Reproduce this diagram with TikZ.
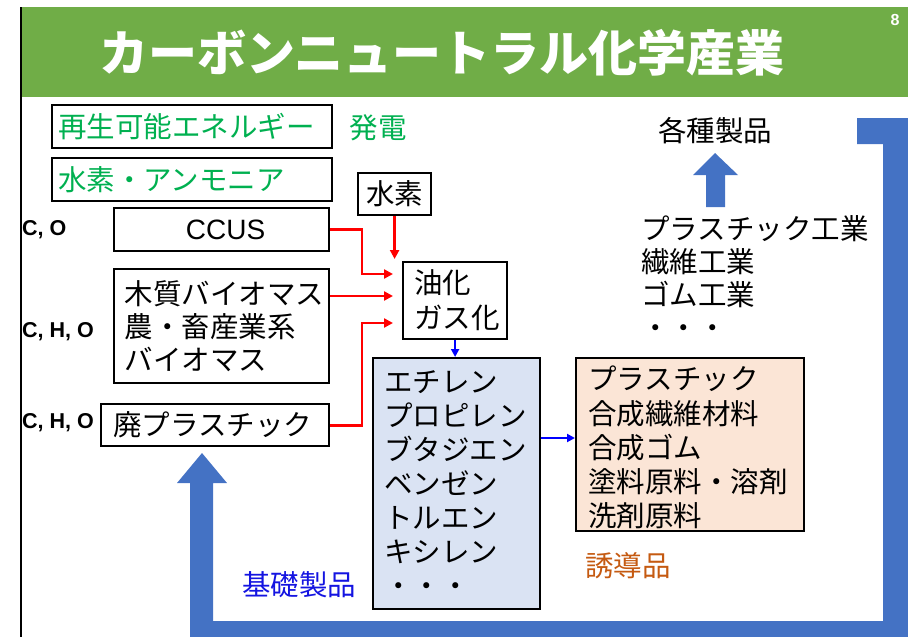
\documentclass[tikz,border=0pt]{standalone}
\usepackage{fontspec}
\setmainfont{Noto Sans CJK JP}
\newfontfamily\lat{Liberation Sans}
\usetikzlibrary{arrows.meta}
\definecolor{hdr}{RGB}{112,173,71}
\definecolor{grn}{RGB}{0,176,80}
\definecolor{bigblue}{RGB}{68,114,196}
\definecolor{lblue}{RGB}{218,227,243}
\definecolor{peach}{RGB}{251,229,214}
\definecolor{brn}{RGB}{197,90,17}
\definecolor{txtblue}{RGB}{20,20,225}
\tikzset{
  box/.style={draw=black, line width=2.2pt, inner ysep=0pt, anchor=north west, align=left,
    font=\fontsize{28.5}{34}\selectfont},
  jtext/.style={inner sep=0pt, font=\fontsize{28.5}{33}\selectfont},
  elem/.style={inner sep=0pt, anchor=west, font=\lat\bfseries\fontsize{21.5}{24}\selectfont},
  redarr/.style={draw=red, line width=2.8pt, -{Triangle[length=9pt,width=9pt]}},
  bluearr/.style={draw=blue, line width=2.4pt, -{Triangle[length=8pt,width=8pt]}}
}
\begin{document}
\begin{tikzpicture}[x=1pt,y=-1pt]
\useasboundingbox (0,0) rectangle (908,637);
% header
\fill[hdr] (21,7) rectangle (908,97);
\draw[line width=2.5pt] (21,7) -- (21,637);
\node[inner sep=0pt, text=white, font=\bfseries\fontsize{49}{49}\selectfont] (title) at (442,53) {カーボンニュートラル化学産業};
\node[inner sep=0pt, text=white, font=\lat\bfseries\fontsize{16}{16}\selectfont] (pageno) at (895,20) {8};
% big feedback arrow
\begin{scope}
\clip (0,0) rectangle (908,637);
\fill[bigblue] (857,118) -- (912,118) -- (912,648) -- (190,648) -- (190,483) -- (177,483)
  -- (202,453) -- (227,483) -- (213,483) -- (213,621) -- (883,621) -- (883,144) -- (857,144) -- cycle;
\end{scope}
% upward block arrow
\fill[bigblue] (706,207) -- (706,175) -- (693,175) -- (715,153) -- (738,175) -- (725,175) -- (725,207) -- cycle;
% boxes
\node[box, text=grn, minimum width=280pt, minimum height=43pt, text width=268pt, inner xsep=6pt] (renew) at (51,104) {再生可能エネルギー};
\node[box, text=grn, minimum width=280pt, minimum height=43pt, text width=268pt, inner xsep=6pt] (hyam) at (51,157) {水素・アンモニア};
\node[box, align=center, minimum width=73pt, minimum height=42pt, text width=61pt, inner xsep=6pt] (h2) at (357,172) {水素};
\node[box, align=center, minimum width=215pt, minimum height=43pt, text width=193pt, inner xsep=11pt, font=\lat\fontsize{28}{32}\selectfont] (ccus) at (113,207) {\hspace*{8pt}CCUS};
\node[box, minimum width=215pt, minimum height=114pt, text width=204pt, inner xsep=5.5pt, font=\fontsize{28.5}{33}\selectfont] (wood) at (113,268) {\hspace*{5pt}木質バイオマス\\\hspace*{5pt}農・畜産業系\\\hspace*{5pt}バイオマス};
\node[box, minimum width=228pt, minimum height=42pt, text width=204pt, inner xsep=12pt] (waste) at (100,403) {廃プラスチック};
\node[box, minimum width=104pt, minimum height=77pt, text width=82pt, inner xsep=11pt, font=\fontsize{28.5}{35}\selectfont] (yuka) at (402,261) {油化\\ガス化};
\node[box, fill=lblue, minimum width=167pt, minimum height=251pt, text width=145pt, inner xsep=11pt] (basic) at (372,357) {エチレン\\プロピレン\\ブタジエン\\ベンゼン\\トルエン\\キシレン\\・・・};
\node[box, fill=peach, minimum width=228pt, minimum height=173pt] (deriv) at (575,357) {};
\node[jtext, anchor=north west, align=left, font=\fontsize{28.5}{34.2}\selectfont] (derivtext) at ([shift={(13,9)}]deriv.north west) {プラスチック\\合成繊維材料\\合成ゴム\\塗料原料・溶剤\\洗剤原料};
% plain labels
\node[jtext, text=grn] (hatsu) at (378,128) {発電};
\node[elem] (co) at (22,230) {C, O};
\node[elem] (cho1) at (22,332) {C, H, O};
\node[elem] (cho2) at (22,423) {C, H, O};
\node[jtext] (kakushu) at (715,131) {各種製品};
\node[jtext, anchor=north west, align=left, font=\fontsize{28.5}{33}\selectfont] (indus) at (641,215) {プラスチック工業\\繊維工業\\ゴム工業\\・・・};
\node[jtext, text=txtblue] (kiso) at (299,585) {基礎製品};
\node[jtext, text=brn] (yudo) at (628,566) {誘導品};
% red arrows
\draw[redarr] (h2.south) -- (h2.south |- 0,259);
\draw[redarr] (ccus.east) -| (362,274) -- ([xshift=-9pt]yuka.west |- 0,274);
\draw[redarr] (wood.east |- 0,296) -- ([xshift=-9pt]yuka.west |- 0,296);
\draw[redarr] (waste.east) -| (362,323) -- ([xshift=-9pt]yuka.west |- 0,323);
% blue arrows
\draw[bluearr] (yuka.south) -- (yuka.south |- basic.north);
\draw[bluearr] (basic.east |- 0,438) -- (deriv.west |- 0,438);
\end{tikzpicture}
\end{document}
